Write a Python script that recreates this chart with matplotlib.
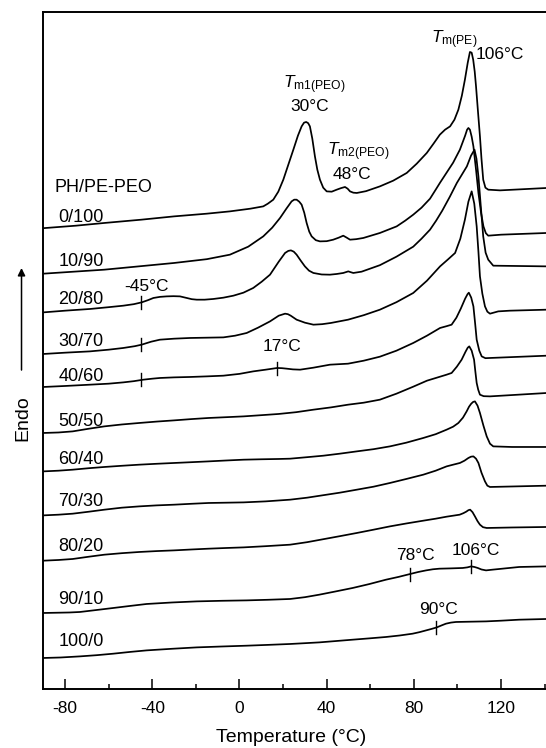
import matplotlib
matplotlib.use('Agg')
import matplotlib.pyplot as plt
import numpy as np

plt.rcParams['font.family'] = ['Liberation Sans', 'DejaVu Sans']
plt.rcParams['mathtext.fontset'] = 'custom'
plt.rcParams['mathtext.rm'] = 'Liberation Sans'
plt.rcParams['mathtext.it'] = 'Liberation Sans:italic'
plt.rcParams['axes.unicode_minus'] = False

# DSC heating traces of PH/PE-PEO blends (heat flow in arbitrary units, traces shifted vertically)
t_0_100 = [-90, -75, -62, -45, -30, -15, -4.4, 5, 10.9, 13, 15.5, 17.8, 20.1, 22.4, 24.7, 26.8, 28.5, 29.6, 30.6,
           31.5, 32.3, 33.4, 34.6, 35.7, 36.9, 38.4, 40.0, 42.3, 44.6, 46.5, 48.4, 49.6, 50.7, 52.2, 53.8, 58, 64.4,
           70.5, 76.7, 81.3, 85.9, 89, 91.9, 94.3, 96.6, 98.6, 100.4, 102, 103.4, 104.7, 105.7, 106.5, 107.2, 107.9,
           108.5, 109.4, 110.3, 111, 111.8, 112.8, 114.1, 119.5, 141]
h_0_100 = [4.605, 4.63, 4.657, 4.69, 4.723, 4.75, 4.773, 4.80, 4.823, 4.85, 4.89, 4.97, 5.09, 5.24, 5.39, 5.53,
           5.623, 5.66, 5.667, 5.655, 5.623, 5.50, 5.323, 5.19, 5.09, 5.01, 4.973, 4.97, 4.99, 5.005, 5.017, 5.0,
           4.973, 4.96, 4.957, 4.975, 5.023, 5.08, 5.157, 5.25, 5.357, 5.45, 5.54, 5.59, 5.623, 5.69, 5.79, 5.93,
           6.09, 6.26, 6.367, 6.36, 6.29, 6.17, 6.023, 5.77, 5.523, 5.30, 5.09, 5.01, 4.99, 4.983, 5.007]

t_10_90 = [-90, -62, -30, -15, -4.4, 4, 10.9, 15, 18.6, 21.5, 23.9, 25.1, 26.2, 27.4, 28.5, 29.7, 30.8, 32, 33.1,
           35, 36.9, 40, 43, 45.5, 47.6, 49.2, 50.7, 53.5, 56.8, 64.4, 72.1, 76, 79.7, 83.5, 87.4, 90, 92, 95, 98,
           101.1, 103.5, 104.4, 105, 105.7, 106.5, 107.3, 108.5, 109.6, 110.8, 111.9, 113, 114.1, 120, 141]
h_10_90 = [4.15, 4.19, 4.257, 4.295, 4.34, 4.42, 4.523, 4.61, 4.707, 4.80, 4.873, 4.89, 4.89, 4.87, 4.84, 4.76,
           4.657, 4.57, 4.523, 4.485, 4.473, 4.475, 4.49, 4.51, 4.53, 4.51, 4.49, 4.495, 4.507, 4.557, 4.623, 4.68,
           4.74, 4.81, 4.90, 4.99, 5.06, 5.16, 5.26, 5.39, 5.53, 5.59, 5.607, 5.59, 5.52, 5.423, 5.19, 4.957, 4.76,
           4.623, 4.555, 4.53, 4.54, 4.557]

t_20_80 = [-90, -80, -68.6, -60, -53.3, -48.5, -44.9, -42, -39.5, -36.5, -33.4, -30.3, -27.3, -24.2, -21.9, -19.6,
           -16, -12, -7.4, -2.8, 1.8, 6.3, 10.2, 14, 18, 20.9, 22.4, 23.6, 24.9, 26.2, 28.1, 30, 31.9, 33.9, 37.7,
           41.5, 44.6, 47.6, 49.9, 51, 52.2, 56, 64.4, 72, 79.7, 83.5, 87.4, 90.2, 93, 96.5, 99.7, 102, 104.3, 106.2,
           107.8, 108.7, 109.6, 110.7, 111.8, 112.9, 114.1, 116.4, 141]
h_20_80 = [3.763, 3.78, 3.797, 3.815, 3.83, 3.845, 3.863, 3.885, 3.907, 3.918, 3.923, 3.925, 3.923, 3.907, 3.895,
           3.89, 3.89, 3.897, 3.91, 3.93, 3.96, 4.007, 4.07, 4.14, 4.27, 4.357, 4.378, 4.383, 4.37, 4.34, 4.28,
           4.223, 4.18, 4.157, 4.142, 4.14, 4.147, 4.157, 4.173, 4.165, 4.157, 4.17, 4.235, 4.32, 4.42, 4.50, 4.59,
           4.68, 4.78, 4.92, 5.057, 5.14, 5.223, 5.33, 5.39, 5.30, 5.123, 4.82, 4.523, 4.36, 4.29, 4.23, 4.223]

t_30_70 = [-90, -80, -68.6, -60, -53.3, -48, -44.9, -40.5, -36.5, -30, -22.7, -15, -7.4, -2, 3.3, 8.5, 14, 18,
           20.9, 22.2, 23.5, 26.2, 30, 33.9, 37.9, 41.9, 49.8, 57, 64.4, 72, 79.7, 86, 92, 95.5, 98.9, 101.3, 103.4,
           105, 106.5, 107.7, 108.8, 109.6, 110.3, 111.4, 112.6, 113.7, 114.9, 118.7, 124, 141]
h_30_70 = [3.347, 3.36, 3.373, 3.39, 3.407, 3.425, 3.44, 3.47, 3.49, 3.50, 3.507, 3.51, 3.513, 3.53, 3.557, 3.61,
           3.673, 3.73, 3.75, 3.745, 3.73, 3.69, 3.66, 3.64, 3.645, 3.657, 3.69, 3.735, 3.79, 3.865, 3.957, 4.08,
           4.223, 4.29, 4.357, 4.50, 4.69, 4.87, 4.973, 4.85, 4.623, 4.37, 4.123, 3.95, 3.823, 3.77, 3.75, 3.773,
           3.78, 3.79]

t_40_60 = [-90, -80, -68.6, -60, -53.3, -48.5, -44.1, -40, -36.5, -30, -22.7, -15, -7.4, 0, 6.3, 12, 17.3, 19.5,
           21.7, 24.5, 27.8, 33.9, 41.5, 49.8, 57, 64.4, 72, 79.7, 86, 92, 95, 97.3, 99.5, 101.5, 103.5, 104.6,
           105.2, 106.3, 107.3, 108.1, 108.8, 110, 111.1, 112.8, 114.9, 141]
h_40_60 = [3.017, 3.027, 3.04, 3.05, 3.063, 3.075, 3.09, 3.10, 3.107, 3.113, 3.117, 3.123, 3.13, 3.148, 3.173,
           3.19, 3.207, 3.205, 3.2, 3.193, 3.19, 3.21, 3.24, 3.25, 3.28, 3.32, 3.38, 3.457, 3.53, 3.607, 3.625,
           3.64, 3.71, 3.80, 3.90, 3.945, 3.96, 3.91, 3.823, 3.65, 3.49, 3.38, 3.323, 3.305, 3.307, 3.33]

t_50_50 = [-90, -83, -76.5, -69, -62, -54, -46, -38, -30, -22, -14.2, -6, 1.9, 10, 17.9, 26, 33.9, 42, 49.8, 57,
           64.4, 72, 79.7, 86, 92, 95, 97.3, 99.7, 101.9, 103.7, 104.7, 105.4, 106.5, 107.6, 108.2, 108.8, 109.5,
           110.3, 112, 114.9, 141]
h_50_50 = [2.557, 2.562, 2.573, 2.60, 2.623, 2.642, 2.657, 2.671, 2.683, 2.696, 2.707, 2.715, 2.723, 2.735, 2.747,
           2.765, 2.79, 2.813, 2.84, 2.86, 2.89, 2.95, 3.02, 3.08, 3.12, 3.14, 3.157, 3.22, 3.29, 3.37, 3.41, 3.423,
           3.38, 3.29, 3.17, 3.057, 2.99, 2.94, 2.925, 2.923, 2.957]

t_60_40 = [-90, -83, -76.5, -69, -62, -54, -46, -38, -30, -22, -14.2, -6, 1.9, 10, 17.9, 23.2, 31, 38.5, 46, 53.8,
           61.5, 69, 76.5, 84.3, 90, 95, 98, 100.4, 102.5, 104.2, 105.3, 106.3, 107.2, 108.0, 109.2, 110.3, 111.9,
           113.4, 114.9, 116.4, 125, 141]
h_60_40 = [2.173, 2.18, 2.19, 2.205, 2.217, 2.229, 2.24, 2.249, 2.257, 2.265, 2.273, 2.282, 2.29, 2.294, 2.297,
           2.30, 2.315, 2.33, 2.35, 2.373, 2.395, 2.423, 2.46, 2.507, 2.545, 2.59, 2.62, 2.657, 2.71, 2.773, 2.82,
           2.85, 2.868, 2.873, 2.83, 2.757, 2.63, 2.523, 2.45, 2.423, 2.417, 2.417]

t_70_30 = [-90, -83, -76.5, -69, -62, -54, -46, -38, -30, -22, -14.2, -6, 1.9, 12, 23.2, 31, 38.5, 46, 53.8, 61.5,
           69, 76.5, 84.3, 90, 95, 98, 101.1, 103.2, 105, 106.2, 107.3, 108.5, 109.6, 111, 112.6, 113.7, 114.9, 125,
           141]
h_70_30 = [1.733, 1.74, 1.75, 1.77, 1.79, 1.81, 1.823, 1.833, 1.84, 1.849, 1.857, 1.86, 1.863, 1.873, 1.89, 1.91,
           1.935, 1.96, 1.99, 2.02, 2.057, 2.097, 2.14, 2.18, 2.223, 2.24, 2.257, 2.28, 2.307, 2.32, 2.323, 2.30,
           2.257, 2.16, 2.073, 2.03, 2.017, 2.022, 2.03]

t_80_20 = [-90, -83, -76.5, -69, -62, -54, -46, -38, -30, -22, -14.2, -6, 1.9, 12, 23.2, 31, 38.5, 46, 53.8, 61.5,
           69, 76.5, 84.3, 90, 95, 98, 101, 102.7, 104, 105, 105.8, 106.9, 108, 109.2, 110.3, 111.7, 113.4, 125, 141]
h_80_20 = [1.28, 1.287, 1.297, 1.32, 1.34, 1.355, 1.367, 1.376, 1.383, 1.392, 1.40, 1.407, 1.413, 1.425, 1.44,
           1.465, 1.495, 1.525, 1.557, 1.59, 1.623, 1.652, 1.68, 1.70, 1.72, 1.73, 1.74, 1.755, 1.77, 1.785, 1.79,
           1.765, 1.723, 1.675, 1.64, 1.615, 1.607, 1.612, 1.617]

t_90_10 = [-90, -82.7, -78, -73.2, -65.5, -57.9, -50, -42.6, -31, -19.6, -8, 3.3, 13, 23.2, 30, 36.6, 44, 51.9,
           59.5, 67.2, 73, 78.3, 82, 85.6, 88.7, 91.7, 97, 102.4, 104.5, 106.3, 107.8, 109.3, 111, 113.1, 116, 119.2,
           128.3, 141]
h_90_10 = [0.757, 0.76, 0.762, 0.767, 0.787, 0.807, 0.828, 0.847, 0.862, 0.873, 0.879, 0.883, 0.889, 0.897, 0.915,
           0.94, 0.972, 1.007, 1.046, 1.09, 1.118, 1.147, 1.167, 1.183, 1.194, 1.20, 1.203, 1.207, 1.213, 1.223,
           1.217, 1.207, 1.192, 1.183, 1.19, 1.197, 1.217, 1.223]

t_100_0 = [-90, -82, -73.2, -65.5, -57.9, -50, -42.6, -31, -19.6, -8, 3.3, 13, 23.2, 30, 36.6, 44, 51.9, 59.5, 67.2,
           73.5, 79.4, 82.5, 85.6, 88, 90.5, 92.6, 94.7, 97, 99.3, 106, 113.1, 120, 128.3, 141]
h_100_0 = [0.307, 0.312, 0.323, 0.335, 0.35, 0.368, 0.383, 0.399, 0.413, 0.422, 0.43, 0.438, 0.447, 0.455, 0.463,
           0.476, 0.49, 0.503, 0.517, 0.532, 0.55, 0.565, 0.583, 0.597, 0.613, 0.632, 0.65, 0.661, 0.667, 0.67,
           0.673, 0.68, 0.69, 0.697]

blend_labels = ['0/100', '10/90', '20/80', '30/70', '40/60', '50/50', '60/40', '70/30', '80/20', '90/10', '100/0']
label_heights = [4.707, 4.273, 3.89, 3.473, 3.117, 2.673, 2.29, 1.867, 1.423, 0.89, 0.473]

curves = [(t_0_100, h_0_100), (t_10_90, h_10_90), (t_20_80, h_20_80), (t_30_70, h_30_70),
          (t_40_60, h_40_60), (t_50_50, h_50_50), (t_60_40, h_60_40), (t_70_30, h_70_30),
          (t_80_20, h_80_20), (t_90_10, h_90_10), (t_100_0, h_100_0)]

# transitions marked with a short bar on the trace: (curve index, temperature)
marks = [(2, -45), (3, -45), (4, -45), (4, 17), (9, 78), (9, 106), (10, 90)]

fig = plt.figure(figsize=(5.46, 7.48), dpi=100)
ax = fig.add_axes([0.0793, 0.0793, 0.9243, 0.9043])

for t, h in curves:
    ax.plot(t, h, color='black', lw=1.25, solid_joinstyle='round')

for i, tm in marks:
    y = np.interp(tm, curves[i][0], curves[i][1])
    ax.plot([tm, tm], [y - 0.065, y + 0.065], color='black', lw=1.0)

ax.text(-85, 5.01, 'PH/PE-PEO', fontsize=13, ha='left', va='center')
for lab, y in zip(blend_labels, label_heights):
    ax.text(-83, y, lab, fontsize=13, ha='left', va='center')

fs = 12.5
ax.text(-42.6, 4.017, '-45°C', fontsize=fs, ha='center', va='center')
ax.text(19.5, 3.417, '17°C', fontsize=fs, ha='center', va='center')
ax.text(32.3, 5.817, '30°C', fontsize=fs, ha='center', va='center')
ax.text(34.2, 6.04, r'$T_{\mathrm{m1(PEO)}}$', fontsize=fs, ha='center', va='center')
ax.text(51.8, 5.14, '48°C', fontsize=fs, ha='center', va='center')
ax.text(54.7, 5.365, r'$T_{\mathrm{m2(PEO)}}$', fontsize=fs, ha='center', va='center')
ax.text(98.4, 6.49, r'$T_{\mathrm{m(PE)}}$', fontsize=fs, ha='center', va='center')
ax.text(119.6, 6.34, '106°C', fontsize=fs, ha='center', va='center')
ax.text(80.9, 1.33, '78°C', fontsize=fs, ha='center', va='center')
ax.text(108.4, 1.383, '106°C', fontsize=fs, ha='center', va='center')
ax.text(91.2, 0.79, '90°C', fontsize=fs, ha='center', va='center')

ax.set_xlim(-90, 141.5)
ax.set_ylim(0, 6.764)
ax.set_xticks([-80, -40, 0, 40, 80, 120])
ax.set_xticks([-60, -20, 20, 60, 100, 140], minor=True)
ax.set_yticks([])
ax.tick_params(axis='x', which='major', direction='in', length=7.4, width=1.1, labelsize=12.5, pad=9)
ax.tick_params(axis='x', which='minor', direction='in', length=3.4, width=1.1)
for sp in ax.spines.values():
    sp.set_linewidth(1.4)

ax.set_xlabel('Temperature (°C)', fontsize=14)
ax.xaxis.label.set_va('center')
ax.xaxis.set_label_coords(0.492, -0.0729)

# "Endo" label with upward arrow, outside the axes
fig.text(0.0414, 0.4412, 'Endo', fontsize=14, rotation=90, ha='center', va='center')
ax.annotate('', xy=(0.0394, 0.6417), xytext=(0.0394, 0.5053), xycoords='figure fraction',
            textcoords='figure fraction',
            arrowprops=dict(arrowstyle='-|>', lw=1.1, color='black', mutation_scale=11, shrinkA=0, shrinkB=0))

fig.savefig('out.png', dpi=100)
